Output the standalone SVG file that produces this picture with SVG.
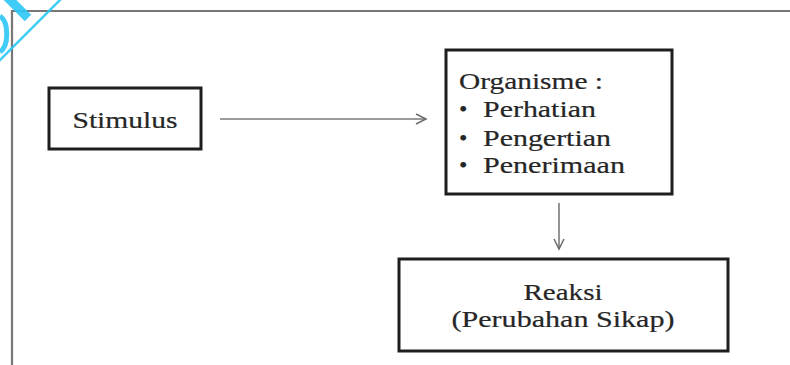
<svg xmlns="http://www.w3.org/2000/svg" width="790" height="365" viewBox="0 0 790 365">
<defs>
<style>
.box{fill:#fff;stroke:#1e1e1e;stroke-width:3}
.t{font-family:'Liberation Serif','Times New Roman',Times,serif;font-size:24px;fill:#262626;stroke:#262626;stroke-width:0.2}
.c{stroke:#7a7a7a;stroke-width:1.6;fill:none}
</style>
<marker id="ah" markerWidth="14" markerHeight="12" refX="11" refY="6" orient="auto" markerUnits="userSpaceOnUse">
<path d="M1,1 L11,6 L1,11" fill="none" stroke="#6a6a6a" stroke-width="1.5"/>
</marker>
</defs>
<rect width="790" height="365" fill="#fff"/>
<path d="M12,365 L12,11 L790,11" fill="none" stroke="#777" stroke-width="2.2"/>
<g id="connectors">
<line class="c" x1="220" y1="119" x2="426" y2="119" marker-end="url(#ah)"/>
<line class="c" x1="559" y1="203" x2="559" y2="249" marker-end="url(#ah)"/>
</g>
<g id="stimulus">
<rect class="box" x="49" y="88" width="152" height="61"/>
<text class="t" x="125" y="128" text-anchor="middle" textLength="105" lengthAdjust="spacingAndGlyphs">Stimulus</text>
</g>
<g id="organisme">
<rect class="box" x="446" y="50" width="226" height="144"/>
<text class="t" x="459" y="89" textLength="144" lengthAdjust="spacingAndGlyphs">Organisme :</text>
<text class="t" x="459" y="117">•</text>
<text class="t" x="483" y="117" textLength="113" lengthAdjust="spacingAndGlyphs">Perhatian</text>
<text class="t" x="459" y="146">•</text>
<text class="t" x="483" y="146" textLength="128" lengthAdjust="spacingAndGlyphs">Pengertian</text>
<text class="t" x="459" y="173">•</text>
<text class="t" x="483" y="173" textLength="142" lengthAdjust="spacingAndGlyphs">Penerimaan</text>
</g>
<g id="reaksi">
<rect class="box" x="399" y="259" width="329" height="92"/>
<text class="t" x="563" y="300" text-anchor="middle" textLength="79" lengthAdjust="spacingAndGlyphs">Reaksi</text>
<text class="t" x="563" y="327" text-anchor="middle" textLength="223" lengthAdjust="spacingAndGlyphs">(Perubahan Sikap)</text>
</g>
<g id="watermark" fill="none" stroke="#2cc6f6" stroke-opacity="0.9">
<line x1="61" y1="-1" x2="-1" y2="61" stroke-width="2.5"/>
<line x1="4" y1="-6" x2="28" y2="18" stroke-width="9"/>
<path d="M0,16 C9,22 9,46 0,52" stroke-width="5"/>
</g>
</svg>
